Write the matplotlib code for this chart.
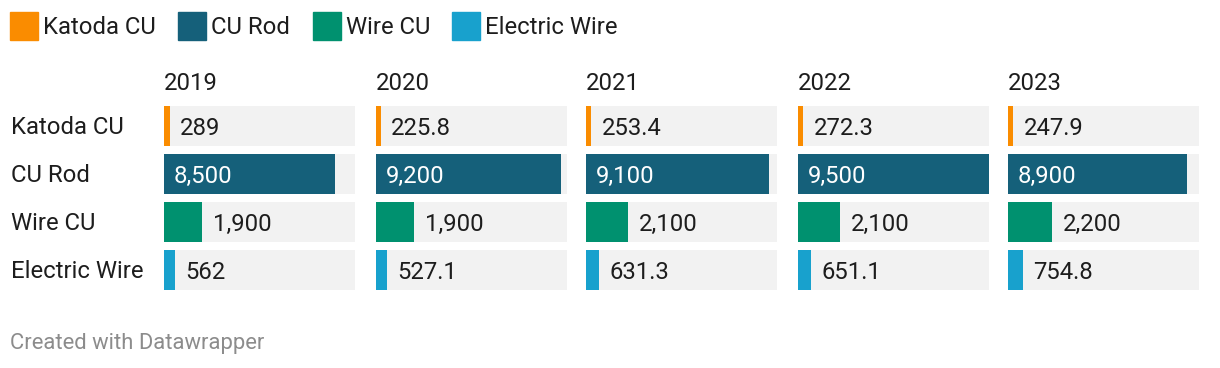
import matplotlib.pyplot as plt
import matplotlib.patches as mpatches

plt.rcParams['font.family'] = ['Roboto', 'DejaVu Sans']

years = ['2019', '2020', '2021', '2022', '2023']
categories = ['Katoda CU', 'CU Rod', 'Wire CU', 'Electric Wire']
colors = ['#fa8c00', '#15607a', '#00916f', '#18a1cd']

katoda = [289, 225.8, 253.4, 272.3, 247.9]
cu_rod = [8500, 9200, 9100, 9500, 8900]
wire_cu = [1900, 1900, 2100, 2100, 2200]
electric = [562, 527.1, 631.3, 651.1, 754.8]
labels = [
    ['289', '8,500', '1,900', '562'],
    ['225.8', '9,200', '1,900', '527.1'],
    ['253.4', '9,100', '2,100', '631.3'],
    ['272.3', '9,500', '2,100', '651.1'],
    ['247.9', '8,900', '2,200', '754.8'],
]
x_max = 9500

W, H = 1220, 368
fig = plt.figure(figsize=(W / 100, H / 100), dpi=100)
FS = 17.2
TXT = '#1d1d1d'

def px(x, y):
    return x / W, 1 - y / H

# legend
lx = [10, 178, 313, 452]
for i, cat in enumerate(categories):
    fig.patches.append(mpatches.Rectangle(px(lx[i], 40), 28 / W, 28 / H,
                                          transform=fig.transFigure, color=colors[i]))
    fig.text(*px(lx[i] + 33, 28), cat, fontsize=FS, color=TXT, va='center')

# row labels
row_y = [126, 174, 222, 270]
for cat, y in zip(categories, row_y):
    fig.text(*px(11, y + 2), cat, fontsize=FS, color=TXT, va='center')

panel_x = [164, 376, 586, 798, 1008]
panel_w = 191
for j, year in enumerate(years):
    vals = [katoda[j], cu_rod[j], wire_cu[j], electric[j]]
    left, bottom = px(panel_x[j], 294)
    ax = fig.add_axes([left, bottom, panel_w / W, 192 / H])
    pos = list(range(4))
    ax.barh(pos, [x_max] * 4, height=40 / 48, color='#f2f2f2')
    ax.barh(pos, vals, height=40 / 48, color=colors)
    ax.set_xlim(0, x_max)
    ax.set_ylim(3.5, -0.5)
    for k, v in enumerate(vals):
        if v > 5000:
            ax.annotate(labels[j][k], (0, k), xytext=(7, -1.5), textcoords='offset points',
                        va='center', ha='left', fontsize=FS, color='white')
        else:
            ax.annotate(labels[j][k], (v, k), xytext=(7.5, -1.5), textcoords='offset points',
                        va='center', ha='left', fontsize=FS, color=TXT)
    ax.axis('off')
    fig.text(*px(panel_x[j], 83.5), year, fontsize=FS, color=TXT, va='center')

fig.text(*px(10, 344), 'Created with Datawrapper', fontsize=15.8, color='#8c8c8c', va='center')

fig.savefig('out.png', dpi=100)
